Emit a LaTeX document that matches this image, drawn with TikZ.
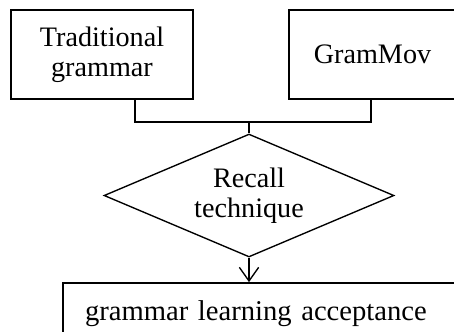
\documentclass[tikz,border=0pt]{standalone}
\usepackage{fontspec}
\setmainfont{Liberation Serif}
\usetikzlibrary{arrows.meta,positioning,shapes.geometric}

\begin{document}
\begin{tikzpicture}[x=0.44pt,y=-0.44pt,line width=0.6pt,
  txt/.style={font=\fontsize{12.4}{13.2}\selectfont},
  inbox/.style={draw,rectangle,inner sep=0pt,align=center,minimum height=39.2pt,txt},
  choice/.style={draw,diamond,aspect=2.36,inner sep=0pt,align=center,minimum width=127.6pt,minimum height=54.1pt,txt}]
\useasboundingbox (0,0) rectangle (454,331);
% two inputs, merged into the recall step
\node[inbox,minimum width=80.1pt] (trad) at (102,54.5) {Traditional\\grammar};
\node[inbox,minimum width=73.5pt] (gram) at (372.5,54.5) {GramMov};
\node[choice] (recall) at (249,195.5) {Recall\\technique};
\node[draw,rectangle,inner xsep=9.7pt,inner ysep=0pt,text width=159.7pt,align=left,minimum height=27pt,font=\fontsize{12.6}{13.2}\selectfont] (accept) at (266.5,313.5) {grammar learning acceptance};
\coordinate (join) at (recall.north |- 0,122);
\draw ([xshift=14.5pt]trad.south) |- (join) -| ([xshift=-0.7pt]gram.south);
\draw (join)--(recall.north);
\draw[-{Straight Barb[length=6pt,width=8.5pt]}] (recall.south)--(recall.south |- accept.north);
\end{tikzpicture}
\end{document}
